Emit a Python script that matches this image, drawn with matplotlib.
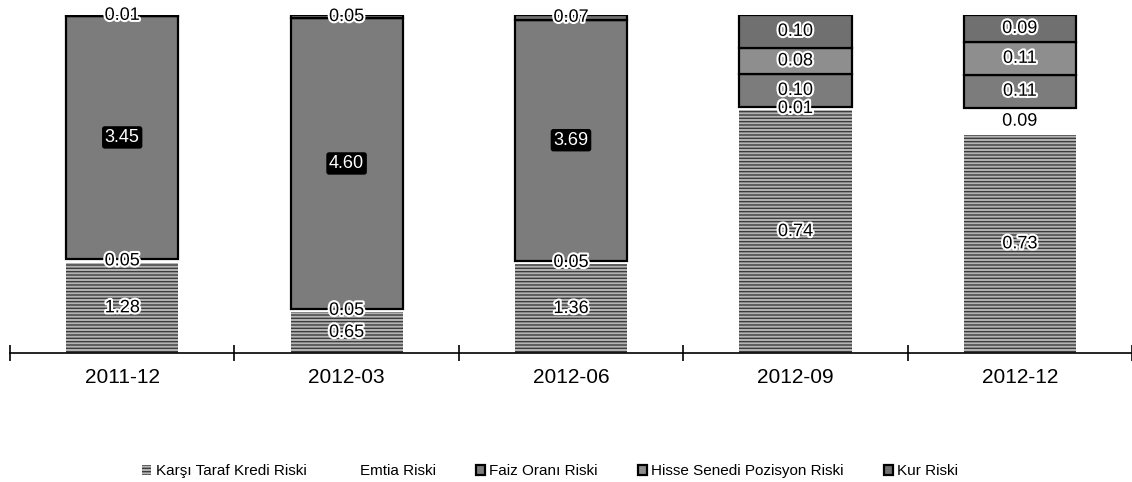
import matplotlib.pyplot as plt
import matplotlib.patheffects as pe
import numpy as np

plt.rcParams['font.family'] = ['Liberation Sans', 'DejaVu Sans']

# datos
donemler = ['2011-12', '2012-03', '2012-06', '2012-09', '2012-12']
seriler = ['Karşı Taraf Kredi Riski', 'Emtia Riski', 'Faiz Oranı Riski',
           'Hisse Senedi Pozisyon Riski', 'Kur Riski']
karsi_taraf = [1.28, 0.65, 1.36, 0.74, 0.73]
emtia = [0.05, 0.05, 0.05, 0.01, 0.09]
faiz = [3.45, 4.60, 3.69, 0.10, 0.11]
hisse = [0.00, 0.00, 0.00, 0.08, 0.11]
kur = [0.01, 0.05, 0.07, 0.10, 0.09]

valores = np.array([karsi_taraf, emtia, faiz, hisse, kur])
toplam = valores.sum(axis=0)
oran = valores / toplam  # barras al 100%

colores = ['#b4b4b4', 'white', '#7c7c7c', '#8e8e8e', '#707070']
bordes = ['#3c3c3c', 'white', 'black', 'black', 'black']
tramas = ['-----', None, None, None, None]
grosor = [0, 0, 1.6, 1.6, 1.6]

fig = plt.figure(figsize=(11.32, 4.82), dpi=100)
ax = fig.add_axes([10 / 1132, 129 / 482, 1122 / 1132, 338 / 482])

x = np.arange(len(donemler))
base = np.zeros(len(donemler))
for i, nombre in enumerate(seriler):
    ax.bar(x, oran[i], 0.5, bottom=base, color=colores[i], edgecolor=bordes[i],
           hatch=tramas[i], linewidth=grosor[i], label=nombre)
    for j in range(len(donemler)):
        v = valores[i, j]
        if v <= 0:
            continue
        y = base[j] + oran[i, j] / 2
        if i == 2 and j < 3:
            ax.text(x[j], y, '%.2f' % v, ha='center', va='center', fontsize=13,
                    color='white',
                    bbox=dict(boxstyle='round,pad=0.15', fc='black', ec='none'))
        else:
            ax.text(x[j], y, '%.2f' % v, ha='center', va='center', fontsize=13,
                    color='black',
                    path_effects=[pe.withStroke(linewidth=3, foreground='white')])
    base = base + oran[i]

ax.set_xlim(-0.5, 4.5)
ax.set_ylim(0, 1)
ax.set_xticks(x)
ax.set_xticklabels(donemler, fontsize=15)
ax.tick_params(axis='x', which='major', length=0, pad=11)
ax.set_xticks(np.arange(-0.5, 5, 1), minor=True)
ax.tick_params(axis='x', which='minor', direction='inout', length=12, width=1.2)
ax.set_yticks([])
for s in ['top', 'right', 'left']:
    ax.spines[s].set_visible(False)
ax.spines['bottom'].set_linewidth(1.2)

fig.legend(loc='center', bbox_to_anchor=(0.486, 0.022), ncol=5, frameon=False,
           handlelength=0.6, handleheight=0.6, handletextpad=0.3,
           columnspacing=2.6, prop={'size': 11})

fig.savefig('out.png', dpi=100)
